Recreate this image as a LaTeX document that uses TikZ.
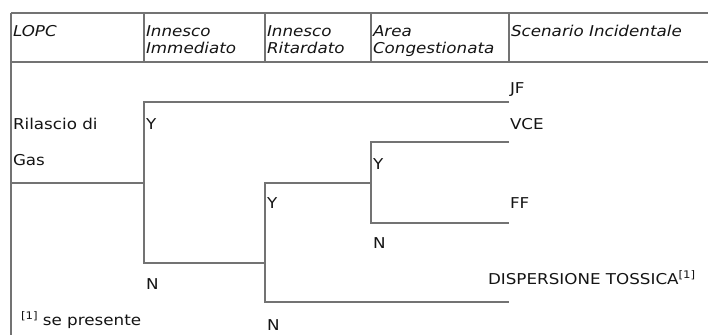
\documentclass[tikz,border=0pt]{standalone}
\usepackage{fontspec}
\setmainfont{DejaVu Sans}[FakeStretch=1.12]
\definecolor{linegray}{gray}{0.45}
\definecolor{txt}{gray}{0.08}
\tikzset{
  lbl/.style={anchor=base west, inner sep=0pt, outer sep=0pt, text=txt, font=\fontsize{15}{17}\selectfont},
  hdr/.style={lbl, font=\fontsize{15}{17}\selectfont\itshape},
  rule/.style={draw=linegray, line width=1.3bp},
  tree/.style={draw=linegray, line width=1.3bp}
}
\begin{document}
\begin{tikzpicture}[x=1bp,y=-1bp]
\useasboundingbox (0,0) rectangle (708,335);
% table frame coordinates
\coordinate (tl) at (11,13);
\coordinate (tr) at (708,13);
\coordinate (hl) at (11,62);
\coordinate (hr) at (708,62);
\coordinate (bl) at (11,335);
\coordinate (c1t) at (144,13); \coordinate (c1b) at (144,62);
\coordinate (c2t) at (265,13); \coordinate (c2b) at (265,62);
\coordinate (c3t) at (371,13); \coordinate (c3b) at (371,62);
\coordinate (c4t) at (509,13); \coordinate (c4b) at (509,62);
\draw[rule] (tl) -- (tr);
\draw[rule] (hl) -- (hr);
\draw[rule] (tl) -- (bl);
\draw[rule] (c1t) -- (c1b);
\draw[rule] (c2t) -- (c2b);
\draw[rule] (c3t) -- (c3b);
\draw[rule] (c4t) -- (c4b);
% tree coordinates
\coordinate (g0) at (11,183);
\coordinate (g1) at (144,183);
\coordinate (a1) at (144,102);
\coordinate (jf) at (509,102);
\coordinate (a2) at (144,263);
\coordinate (b2) at (265,263);
\coordinate (b1) at (265,183);
\coordinate (b3) at (265,302);
\coordinate (dt) at (509,302);
\coordinate (c1) at (371,183);
\coordinate (cy) at (371,142);
\coordinate (cn) at (371,223);
\coordinate (vce) at (509,142);
\coordinate (ff) at (509,223);
\draw[tree] (g0) -- (g1);
\draw[tree] (jf) -- (a1) -- (a2) -- (b2);
\draw[tree] (c1) -- (b1) -- (b3) -- (dt);
\draw[tree] (vce) -- (cy) -- (cn) -- (ff);
% header texts
\node[hdr] (h1) at (13,36) {LOPC};
\node[hdr] (h2a) at (146,36) {Innesco};
\node[hdr] (h2b) at (146,53) {Immediato};
\node[hdr] (h3a) at (267,36) {Innesco};
\node[hdr] (h3b) at (267,53) {Ritardato};
\node[hdr] (h4a) at (373,36) {Area};
\node[hdr] (h4b) at (373,53) {Congestionata};
\node[hdr] (h5) at (511,36) {Scenario Incidentale};
% body texts
\node[lbl] (ril) at (13,129) {Rilascio di};
\node[lbl] (gas) at (13,165) {Gas};
\node[lbl] (y1) at (146,129) {Y};
\node[lbl] (tjf) at (510,93) {JF};
\node[lbl] (tvce) at (510,129) {VCE};
\node[lbl] (y3) at (373,169) {Y};
\node[lbl] (y2) at (267,208) {Y};
\node[lbl] (tff) at (510,208) {FF};
\node[lbl] (n3) at (373,248) {N};
\node[lbl] (n1) at (146,289) {N};
\node[lbl] (tdisp) at (488,284) {DISPERSIONE TOSSICA\raisebox{6bp}{\fontsize{10.5}{11}\selectfont[1]}};
\node[lbl] (note) at (21,325) {\raisebox{6bp}{\fontsize{10.5}{11}\selectfont[1]} se presente};
\node[lbl] (n2) at (267,330) {N};
\end{tikzpicture}
\end{document}
